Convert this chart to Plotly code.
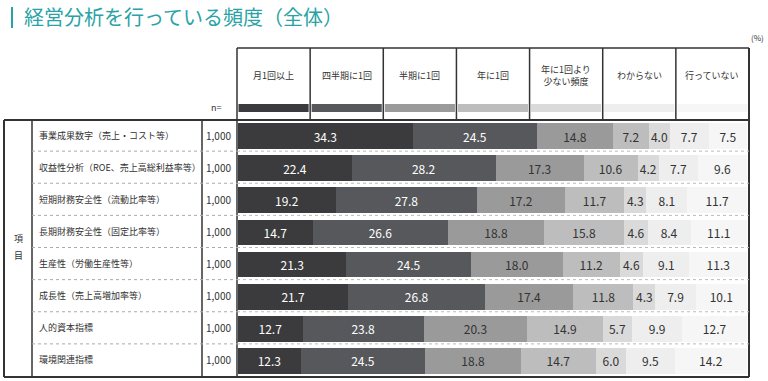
import plotly.graph_objects as go

# ---------------- data ----------------
items = [
    "事業成果数字（売上・コスト等）",
    "収益性分析（ROE、売上高総利益率等）",
    "短期財務安全性（流動比率等）",
    "長期財務安全性（固定比率等）",
    "生産性（労働生産性等）",
    "成長性（売上高増加率等）",
    "人的資本指標",
    "環境関連指標",
]
n_values = ["1,000"] * 8
categories = ["月1回以上", "四半期に1回", "半期に1回", "年に1回", "年に1回より<br>少ない頻度", "わからない", "行っていない"]
monthly    = [34.3, 22.4, 19.2, 14.7, 21.3, 21.7, 12.7, 12.3]
quarterly  = [24.5, 28.2, 27.8, 26.6, 24.5, 26.8, 23.8, 24.5]
halfyear   = [14.8, 17.3, 17.2, 18.8, 18.0, 17.4, 20.3, 18.8]
yearly     = [7.2, 10.6, 11.7, 15.8, 11.2, 11.8, 14.9, 14.7]
less       = [4.0, 4.2, 4.3, 4.6, 4.6, 4.3, 5.7, 6.0]
unknown    = [7.7, 7.7, 8.1, 8.4, 9.1, 7.9, 9.9, 9.5]
notdone    = [7.5, 9.6, 11.7, 11.1, 11.3, 10.1, 12.7, 14.2]
series = [monthly, quarterly, halfyear, yearly, less, unknown, notdone]

colors = ["#3b3b3d", "#56585c", "#9a9a9a", "#bdbdbd", "#dadada", "#eeeeee", "#f6f6f6"]
text_colors = ["#ffffff", "#ffffff", "#333333", "#333333", "#333333", "#333333", "#333333"]

W, H = 768, 381
FONT = "Noto Sans CJK JP"
TEXT = "#333333"
TEAL = "#2aa3a6"

def px(x):
    return x / W

def py(y):
    return 1 - y / H

# layout constants (pixels)
tbl_left, tbl_top, tbl_bottom, tbl_right = 4, 120, 377, 749
col_item, col_n, col_bar = 32, 202, 237
hdr_top = 48
bar_x0, bar_x1 = 238, 747
row_h = (tbl_bottom - tbl_top) / len(items)

fig = go.Figure()
for vals, name, c, tc in zip(series, categories, colors, text_colors):
    fig.add_trace(go.Bar(
        y=items, x=vals, name=name, orientation="h",
        marker=dict(color=c, line=dict(width=0)),
        texttemplate="%{x:.1f}", textposition="inside",
        insidetextanchor="middle", textangle=0, constraintext="none",
        textfont=dict(size=12, color=tc, family=FONT),
        width=0.8, hoverinfo="skip",
    ))

shapes = []
annotations = []

def line(x0, y0, x1, y1, w=1.5, color="#333333", dash="solid"):
    shapes.append(dict(type="line", xref="paper", yref="paper",
                       x0=px(x0), y0=py(y0), x1=px(x1), y1=py(y1),
                       line=dict(color=color, width=w, dash=dash)))

def text(x, y, s, size=9, color=TEXT, xanchor="center", **kw):
    annotations.append(dict(xref="paper", yref="paper", x=px(x), y=py(y), text=s,
                            showarrow=False, xanchor=xanchor, yanchor="middle",
                            font=dict(size=size, color=color, family=FONT), **kw))

# title
line(12, 7, 12, 28, w=2, color=TEAL)
text(22, 17, "経営分析を行っている頻度（全体）", size=20, color=TEAL, xanchor="left")
text(766, 38, "(%)", size=8, xanchor="right")

# header
ncol = len(categories)
col_w = (tbl_right - col_bar) / ncol
line(col_bar, hdr_top, tbl_right, hdr_top)
for i in range(ncol + 1):
    x = col_bar + i * col_w
    line(x, hdr_top, x, tbl_top)
for i, (name, c) in enumerate(zip(categories, colors)):
    x0 = col_bar + i * col_w
    cx = x0 + col_w / 2
    text(cx, 75, name, size=9, color=TEXT)
    shapes.append(dict(type="rect", xref="paper", yref="paper",
                       x0=px(x0 + 1.5), x1=px(x0 + col_w - 1.5), y0=py(112), y1=py(104),
                       fillcolor=c, line=dict(width=0), layer="below"))
text(224, 107, "n=", size=9, xanchor="right")

# table frame
line(tbl_left, tbl_top, tbl_right, tbl_top, w=2)
line(tbl_left, tbl_bottom, tbl_right, tbl_bottom, w=2)
line(tbl_left, tbl_top, tbl_left, tbl_bottom, w=2)
line(tbl_right, hdr_top, tbl_right, tbl_bottom, w=2)
line(col_item, tbl_top, col_item, tbl_bottom)
line(col_n, tbl_top, col_n, tbl_bottom)
line(col_bar, tbl_top, col_bar, tbl_bottom)

# row separators and labels
for k in range(len(items)):
    yc = tbl_top + (k + 0.5) * row_h
    if k > 0:
        ys = tbl_top + k * row_h - 1
        line(col_item, ys, col_bar, ys, w=1, color="#aaaaaa", dash="dot")
        line(col_bar, ys, tbl_right, ys, w=1, color="#bbbbbb", dash="dot")
    text(37, yc - 1, items[k], size=9, xanchor="left")
    text(204, yc - 1, n_values[k], size=10, xanchor="left")

text(18, 238, "項", size=9)
text(18, 255, "目", size=9)

fig.update_layout(
    width=W, height=H, margin=dict(l=0, r=0, t=0, b=0),
    paper_bgcolor="white", plot_bgcolor="white",
    barmode="stack", showlegend=False,
    xaxis=dict(range=[0, 100], domain=[px(bar_x0), px(bar_x1)], visible=False, fixedrange=True),
    yaxis=dict(categoryorder="array", categoryarray=items, autorange="reversed",
               domain=[py(tbl_bottom), py(tbl_top)], visible=False, fixedrange=True),
    shapes=shapes, annotations=annotations,
    font=dict(family=FONT, color=TEXT),
)

fig.write_html("out.html", config={"displayModeBar": False},
               post_script="document.body.style.margin='0';document.body.style.overflow='hidden';")
